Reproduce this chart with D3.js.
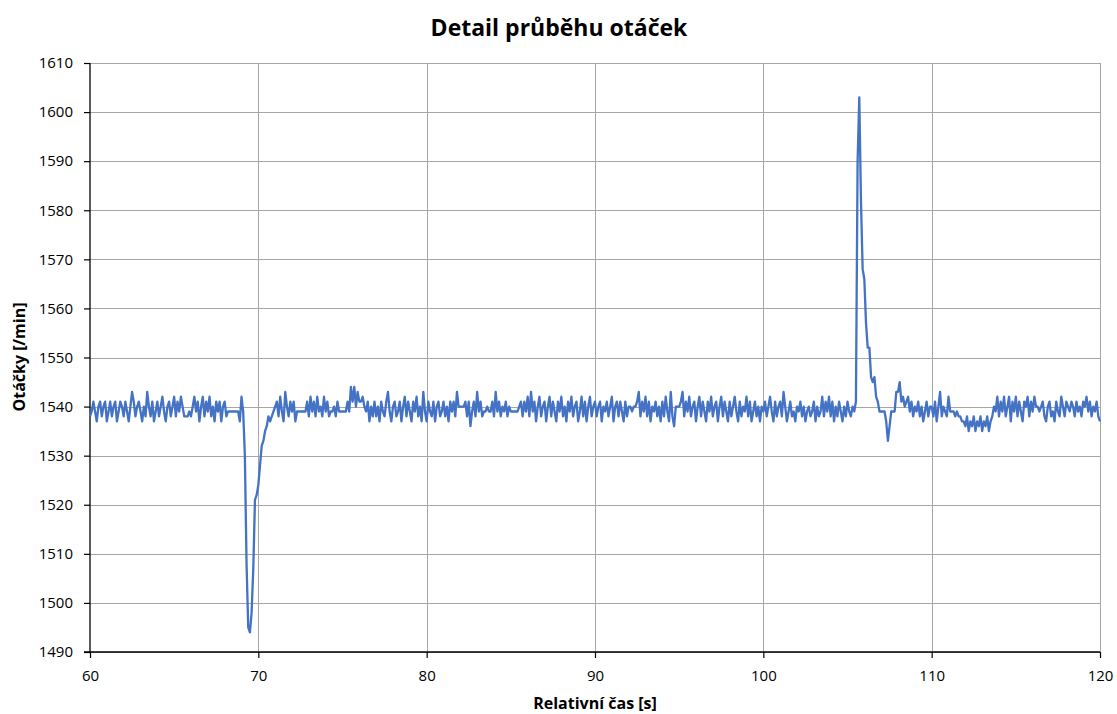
<!DOCTYPE html>
<html>
<head>
<meta charset="utf-8">
<script src="https://cdn.jsdelivr.net/npm/d3@7"></script>
<style>
  html, body { margin: 0; padding: 0; background: #fff; }
  svg { display: block; }
  text { font-family: "Open Sans", "Liberation Sans", sans-serif; }
</style>
</head>
<body>
<svg id="chart" width="1117" height="714"></svg>
<script>
const title = "Detail průběhu otáček";
const xTitle = "Relativní čas [s]";
const yTitle = "Otáčky [/min]";
const xTicks = [60, 70, 80, 90, 100, 110, 120];
const yTicks = [1490, 1500, 1510, 1520, 1530, 1540, 1550, 1560, 1570, 1580, 1590, 1600, 1610];
const timeStart = 60;
const timeStep = 0.1;
// speed samples, one row per second (10 samples each)
const speed = [
  1538,1539,1541,1539,1537,1540,1541,1538,1540,1541,
  1537,1539,1541,1538,1540,1541,1537,1539,1541,1540,
  1538,1541,1539,1537,1540,1543,1541,1538,1540,1541,
  1539,1537,1540,1538,1543,1540,1538,1541,1537,1539,
  1541,1538,1540,1542,1539,1537,1540,1541,1538,1540,
  1542,1538,1541,1539,1542,1540,1538,1538,1538,1539,
  1538,1540,1542,1539,1541,1537,1540,1542,1538,1541,
  1539,1542,1538,1540,1537,1541,1539,1541,1537,1540,
  1541,1538,1539,1539,1539,1539,1539,1539,1539,1537,
  1542,1539,1530,1508,1495,1494,1498,1507,1521,1522,
  1524,1528,1532,1533,1535,1536,1538,1537,1538,1539,
  1540,1541,1538,1542,1539,1537,1543,1540,1538,1541,
  1539,1541,1537,1539,1539,1539,1539,1539,1539,1541,
  1538,1542,1539,1541,1538,1542,1539,1540,1538,1542,
  1539,1541,1538,1539,1539,1540,1538,1541,1539,1539,
  1539,1539,1539,1541,1539,1544,1541,1544,1540,1543,
  1541,1541,1542,1540,1539,1541,1537,1540,1538,1541,
  1538,1540,1537,1541,1539,1538,1541,1543,1539,1537,
  1540,1541,1538,1539,1541,1537,1540,1542,1538,1541,
  1539,1537,1541,1539,1542,1538,1540,1537,1543,1539,
  1537,1541,1539,1538,1541,1537,1540,1541,1538,1539,
  1541,1538,1540,1537,1541,1539,1541,1538,1543,1540,
  1540,1540,1540,1541,1538,1541,1536,1539,1541,1538,
  1543,1539,1541,1538,1539,1539,1540,1539,1539,1541,
  1538,1543,1539,1541,1538,1540,1539,1541,1538,1540,
  1539,1539,1539,1539,1539,1540,1541,1538,1541,1539,
  1542,1538,1543,1539,1541,1537,1540,1542,1538,1540,
  1541,1537,1540,1542,1538,1541,1539,1537,1541,1539,
  1542,1538,1540,1537,1541,1539,1542,1538,1540,1541,
  1537,1539,1542,1538,1541,1537,1540,1542,1538,1540,
  1541,1538,1540,1541,1537,1540,1539,1541,1538,1540,
  1542,1537,1540,1541,1538,1541,1539,1537,1541,1538,
  1540,1540,1539,1540,1540,1541,1543,1538,1541,1539,
  1542,1538,1541,1537,1540,1539,1541,1538,1540,1537,
  1541,1538,1542,1539,1537,1543,1538,1536,1540,1540,
  1540,1541,1543,1538,1541,1539,1542,1538,1540,1541,
  1537,1540,1542,1538,1541,1539,1537,1541,1539,1542,
  1538,1540,1541,1537,1540,1542,1538,1541,1539,1537,
  1541,1538,1540,1542,1539,1537,1541,1538,1540,1539,
  1542,1538,1541,1537,1539,1541,1538,1540,1537,1540,
  1539,1541,1538,1540,1542,1539,1537,1541,1538,1540,
  1541,1538,1543,1540,1537,1539,1541,1538,1539,1537,
  1540,1539,1541,1538,1540,1537,1539,1540,1538,1539,
  1541,1537,1540,1538,1539,1542,1538,1541,1539,1542,
  1538,1541,1537,1540,1538,1541,1539,1537,1540,1538,
  1541,1539,1538,1540,1539,1541,1590,1603,1582,1568,
  1566,1557,1552,1552,1546,1545,1546,1542,1541,1539,
  1539,1539,1539,1537,1533,1536,1539,1539,1539,1543,
  1543,1545,1541,1542,1540,1541,1542,1539,1541,1538,
  1540,1539,1541,1538,1540,1537,1539,1541,1538,1540,
  1540,1538,1541,1537,1540,1543,1538,1540,1539,1538,
  1542,1539,1539,1539,1538,1539,1538,1538,1537,1537,
  1536,1538,1535,1537,1536,1538,1535,1537,1536,1538,
  1535,1537,1536,1538,1535,1537,1538,1540,1539,1542,
  1538,1541,1539,1542,1538,1540,1542,1537,1541,1539,
  1542,1538,1541,1539,1537,1541,1540,1542,1538,1541,
  1539,1542,1540,1540,1539,1540,1541,1538,1537,1540,
  1541,1538,1539,1537,1541,1539,1538,1542,1540,1538,
  1541,1540,1539,1541,1540,1538,1541,1539,1540,1538,
  1541,1540,1542,1539,1541,1538,1540,1539,1541,1538,
  1537
];

const data = speed.map((v, i) => ({ t: timeStart + i * timeStep, v }));

const svg = d3.select("#chart");
const margin = { left: 90, right: 1100, top: 63, bottom: 652 };

const x = d3.scaleLinear().domain([60, 120]).range([margin.left, margin.right]);
const y = d3.scaleLinear().domain([1490, 1610]).range([margin.bottom, margin.top]);

// grid
svg.append("g").selectAll("line").data(yTicks).join("line")
  .attr("x1", margin.left).attr("x2", margin.right)
  .attr("y1", d => Math.round(y(d)) + 0.5).attr("y2", d => Math.round(y(d)) + 0.5)
  .attr("stroke", "#a6a6a6").attr("stroke-width", 1);
svg.append("g").selectAll("line").data(xTicks.slice(1)).join("line")
  .attr("x1", d => Math.round(x(d)) + 0.5).attr("x2", d => Math.round(x(d)) + 0.5)
  .attr("y1", margin.top).attr("y2", margin.bottom)
  .attr("stroke", "#a6a6a6").attr("stroke-width", 1);

// axes
const xAxis = d3.axisBottom(x).tickValues(xTicks).tickSize(6).tickPadding(12).tickFormat(d3.format("d"));
const yAxis = d3.axisLeft(y).tickValues(yTicks).tickSize(6).tickPadding(11).tickFormat(d3.format("d"));

const gx = svg.append("g").attr("transform", `translate(0,${margin.bottom})`).call(xAxis);
const gy = svg.append("g").attr("transform", `translate(${margin.left},0)`).call(yAxis);
[gx, gy].forEach(g => {
  g.select(".domain").attr("stroke", "#000").attr("stroke-width", 1.3);
  g.selectAll(".tick line").attr("stroke", "#000").attr("stroke-width", 1.2);
  g.selectAll(".tick text").attr("fill", "#000").style("font-size", "15px")
    .style("font-family", "'Open Sans', 'Liberation Sans', sans-serif");
});
gy.select(".domain").attr("d", `M0,${margin.top}V${margin.bottom}`);
gx.select(".domain").attr("d", `M${margin.left - 6},0H${margin.right}`);

// line
const line = d3.line().x(d => x(d.t)).y(d => y(d.v));
svg.append("path").datum(data)
  .attr("d", line)
  .attr("fill", "none")
  .attr("stroke", "#4472c4")
  .attr("stroke-width", 2.3)
  .attr("stroke-linejoin", "round");

// titles
svg.append("text").attr("x", 559).attr("y", 36).attr("text-anchor", "middle")
  .style("font-size", "23px").style("font-weight", "bold").attr("fill", "#000").text(title);
svg.append("text").attr("x", 595).attr("y", 709).attr("text-anchor", "middle")
  .style("font-size", "16px").style("font-weight", "bold").attr("fill", "#000").text(xTitle);
svg.append("text").attr("transform", "translate(25,357) rotate(-90)").attr("text-anchor", "middle")
  .style("font-size", "16px").style("font-weight", "bold").attr("fill", "#000").text(yTitle);
</script>
</body>
</html>
